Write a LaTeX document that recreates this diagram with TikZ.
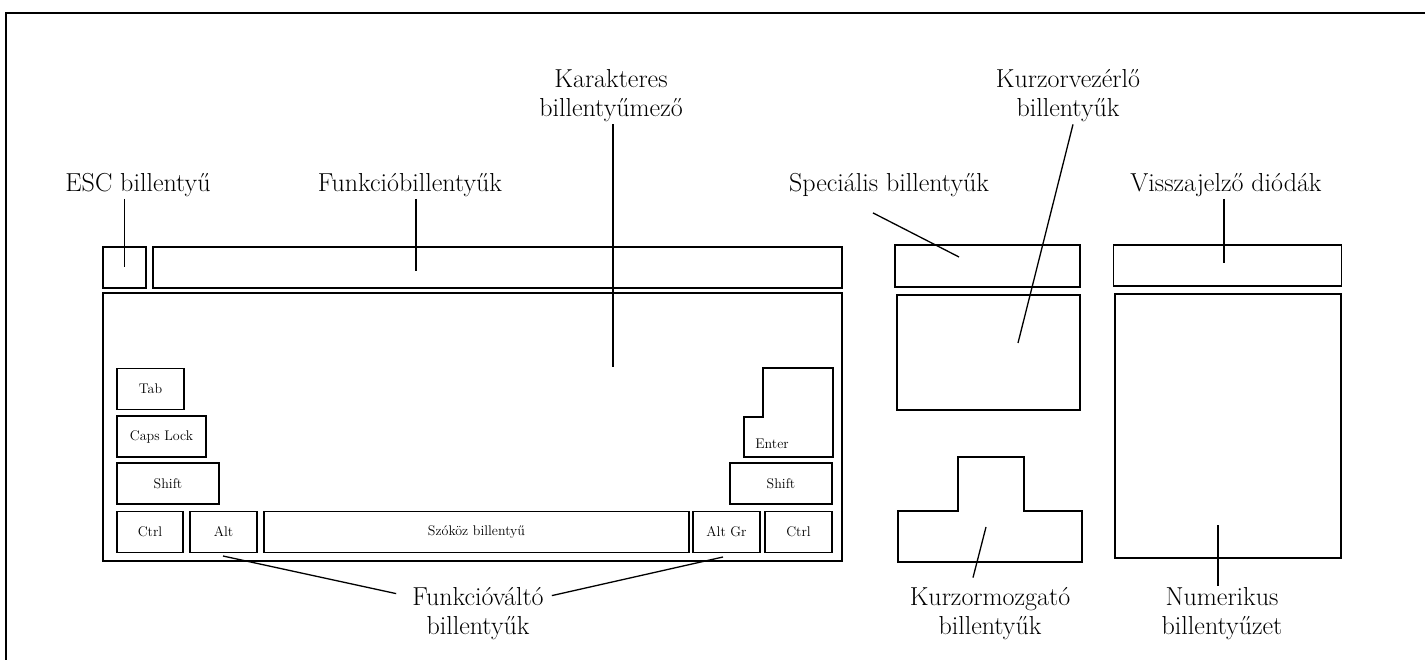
\documentclass[tikz,border=0pt]{standalone}
\usepackage{tikz}
\usetikzlibrary{calc}
\newcommand{\keyfont}{\fontsize{14}{16}\selectfont}
\newcommand{\callfont}{\fontsize{26}{29}\selectfont}
\tikzset{
  keycap/.style={draw, line width=1.5pt, inner sep=0pt, font=\keyfont},
  block/.style={draw, line width=2pt, inner sep=0pt},
  callout/.style={font=\callfont, align=center, inner sep=2pt},
  lead/.style={line width=1.3pt},
}

\begin{document}
\begin{tikzpicture}[x=1pt, y=-1pt]
  \useasboundingbox (0,0) rectangle (1425,660);
  \fill[white] (0,0) rectangle (1425,660);
  % frame
  \draw[block] (6,660) -- (6,13) -- (1425,13);

  % blocks of the keyboard
  \foreach \n/\cx/\cy/\w/\h in {
    esc/124.5/267.5/43/41, fkeys/497.5/267.5/689/41, special/987.5/266/185/42,
    cursorctl/988.5/352.5/183/115, leds/1227.5/265.5/228/41, numpad/1228/426/226/264}
    \node[keycap, minimum width=\w pt, minimum height=\h pt] (\n) at (\cx,\cy) {};
  \node[block, minimum width=739pt, minimum height=268pt] (main) at (472.5,427) {};

  % keys of the main block
  \foreach \n/\cx/\cy/\w/\t in {
    tab/150.5/389/67/Tab, caps/161.5/436.5/89/Caps Lock, lshift/168/483.5/102/Shift,
    rshift/781/483.5/102/Shift, lctrl/150/532/66/Ctrl, lalt/223.5/532/67/Alt,
    space/476.5/532/425/Szóköz billentyű, altgr/726.5/532/67/Alt Gr, rctrl/798.5/532/67/Ctrl}
    \node[keycap, minimum width=\w pt, minimum height=41pt] (\n) at (\cx,\cy) {\t};
  \draw[keycap] (763,368) -- (833,368) -- (833,457) -- (744,457) -- (744,417) -- (763,417) -- cycle;
  \node[font=\keyfont] (enter) at (772,444) {Enter};

  % cursor movement keys
  \draw[keycap] (958,457) -- (1024,457) -- (1024,511) -- (1082,511) -- (1082,562)
    -- (898,562) -- (898,511) -- (958,511) -- cycle;

  % labels
  \node[callout] (lblchar) at (611,96) {Karakteres\\billentyűmező};
  \node[callout] (lblcursor) at (1068,96) {Kurzorvezérlő\\billentyűk};
  \node[callout] (lblesc) at (138,185) {ESC billentyű};
  \node[callout] (lblfkeys) at (410,185) {Funkcióbillentyűk};
  \node[callout] (lblspecial) at (889,185) {Speciális billentyűk};
  \node[callout] (lblleds) at (1226,185) {Visszajelző diódák};
  \node[callout] (lblmods) at (478,614) {Funkcióváltó\\billentyűk};
  \node[callout] (lblmove) at (990,614) {Kurzormozgató\\billentyűk};
  \node[callout] (lblnum) at (1222,614) {Numerikus\\billentyűzet};

  \coordinate (tipfkeys) at (416,271);
  \coordinate (tipchar) at (613,367);
  \coordinate (tipcursor) at (1018,343);
  \coordinate (tipspecial) at (959,257);
  \coordinate (tipleds) at (1224,263);
  \coordinate (tipnum) at (1218,525);
  \coordinate (tipmove) at (986,527);
  \coordinate (tiplalt) at (223,556);
  \coordinate (tipaltgr) at (723,557);

  % leaders
  \draw[lead] (lblesc.south -| esc.center) -- (esc.center);
  \draw[lead] (lblfkeys.south -| tipfkeys) -- (tipfkeys);
  \draw[lead] (lblchar.south -| tipchar) -- (tipchar);
  \draw[lead] ($(lblcursor.south)+(5,0)$) -- (tipcursor);
  \draw[lead] ($(lblspecial.south)+(-16,14)$) -- (tipspecial);
  \draw[lead] (lblleds.south -| tipleds) -- (tipleds);
  \draw[lead] (tipnum) -- (lblnum.north -| tipnum);
  \draw[lead] (tipmove) -- ($(lblmove.north)+(-17,-8)$);
  \draw[lead] (tiplalt) -- ($(lblmods.north west)+(-14,8)$);
  \draw[lead] (tipaltgr) -- ($(lblmods.north east)+(6,10)$);
\end{tikzpicture}
\end{document}
